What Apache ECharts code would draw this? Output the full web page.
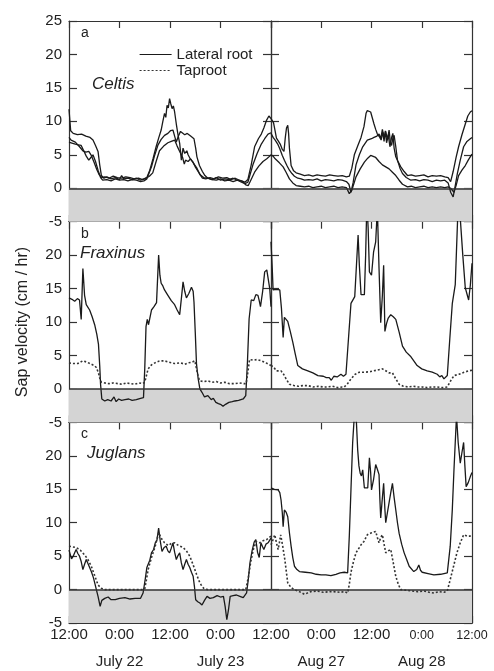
<!DOCTYPE html>
<html>
<head>
<meta charset="utf-8">
<title>Sap velocity</title>
<script src="https://cdn.jsdelivr.net/npm/echarts@6/dist/echarts.min.js"></script>
<style>
  html, body { margin: 0; padding: 0; background: #fff; }
  #chart { width: 494px; height: 671px; }
</style>
</head>
<body>
<div id="chart"></div>
<script>
// hours since the first 12:00 of each 48 h window
var tickHours = [0, 12, 24, 36, 48];
var julyTickLabels = ['12:00', '0:00', '12:00', '0:00', '12:00'];
var augTickLabels = ['', '0:00', '12:00', '0:00', '12:00'];
var julyDates = ['July 22', 'July 23'];
var augDates = ['Aug 27', 'Aug 28'];
var panelLetters = ['a', 'b', 'c'];
var speciesNames = ['Celtis', 'Fraxinus', 'Juglans'];
var yTicks = [-5, 0, 5, 10, 15, 20, 25];

// Celtis: three lateral roots
var celtisJuly1 = [[0,11.8],[0.4,8.6],[1,8.2],[2,8.0],[3,8.1],[4,7.8],[5,7.6],[5.7,7.2],[6.3,6.4],[6.9,5.5],[7.3,3.5],[7.7,1.9],[8.3,1.5],[9,1.7],[10,1.4],[11,1.6],[12,1.3],[12.5,1.9],[13,1.4],[14,1.5],[15,1.3],[16,1.5],[17,1.2],[17.8,1.4],[18.5,1.6],[19.2,2.7],[20,4.5],[20.7,6.2],[21.3,7.5],[21.9,8.7],[22.3,10],[22.7,11.2],[23,10.6],[23.3,12.4],[23.6,12.0],[23.9,13.4],[24.2,12.6],[24.5,11.9],[24.8,12.3],[25.1,11.4],[25.5,9.6],[25.9,8.0],[26.3,6.7],[26.7,4.2],[27.1,6.0],[27.5,5.2],[28,5.6],[28.3,5.0],[28.8,4.4],[29.5,3.9],[30,3.2],[30.6,2.6],[31.2,2.0],[32,1.6],[33,1.5],[34,1.3],[35,1.6],[36,1.2],[37,1.4],[38,1.3],[39,1.5],[40,1.2],[41,1.1],[41.8,0.9],[42.5,1.3],[43.3,3.5],[44.1,6.2],[45,7.4],[45.7,8.1],[46.3,9.0],[46.9,10.1],[47.5,10.8],[48,10.4]];
var celtisJuly2 = [[0,6.9],[0.5,6.8],[1.5,6.6],[2.2,6.5],[2.9,6.4],[3.5,5.6],[4.1,4.8],[4.7,4.2],[5.2,4.6],[5.7,5.0],[6.3,4.0],[6.9,2.7],[7.5,1.6],[8,1.2],[9,1.3],[10,1.1],[11,1.4],[12,1.2],[13,1.3],[14,1.1],[15,1.3],[16,1.2],[17,1.0],[17.8,1.1],[18.5,1.4],[19.6,3.2],[20.3,4.8],[21.1,6.4],[21.9,7.3],[22.7,7.9],[23.5,8.2],[24.1,8.6],[24.7,8.7],[25.1,7.8],[25.5,6.9],[26,7.8],[26.5,8.5],[26.9,8.3],[27.5,8.0],[28.1,8.2],[28.9,7.8],[29.7,7.4],[30.1,6.0],[30.4,4.7],[31,3.4],[31.7,2.5],[32.3,1.9],[33,1.5],[34,1.3],[35,1.2],[36,1.4],[37,1.1],[38,1.2],[39,1.0],[40,1.2],[41,0.9],[41.8,0.7],[42.5,0.9],[43.7,3.5],[44.7,5.2],[45.7,6.6],[46.5,7.4],[47.3,8.1],[48,8.3]];
var celtisJuly3 = [[0,7.6],[0.5,7.2],[1.5,6.9],[2.5,6.2],[3.3,5.6],[4,5.4],[4.7,5.5],[5.3,4.9],[6,3.8],[6.6,2.8],[7.2,2.0],[7.8,1.6],[8.5,1.7],[9.5,1.5],[10.5,1.8],[11.5,1.6],[12.5,1.5],[13.5,1.7],[14.5,1.6],[15.5,1.4],[16.5,1.5],[17.5,1.3],[18.3,1.5],[19.1,1.8],[19.9,2.3],[20.7,4.0],[21.5,5.6],[22.5,6.3],[23.5,6.8],[24.3,7.0],[25.1,7.2],[25.7,6.3],[26.3,5.5],[27,4.6],[27.4,3.6],[27.7,4.2],[28.3,4.0],[28.9,4.4],[29.6,3.7],[30.4,3.0],[31,2.2],[31.7,1.5],[32.5,1.4],[33.5,1.6],[34.5,1.4],[35.5,1.7],[36.5,1.5],[37.5,1.6],[38.5,1.3],[39.5,1.5],[40.5,1.2],[41.3,1.0],[42,0.5],[42.6,0.4],[43.2,1.2],[44.1,2.4],[45.1,3.3],[46.1,4.0],[47,4.4],[47.7,4.8],[48,5.0]];
var celtisAug1 = [[0,10.4],[0.3,10.1],[0.6,9.8],[1,8.5],[1.3,7.5],[1.8,7.0],[2.2,6.6],[2.7,5.8],[3.1,5.5],[3.4,7.5],[3.7,9.0],[4.0,9.4],[4.2,8.2],[4.4,6.0],[4.8,3.4],[5.4,2.6],[6,2.3],[7,2.1],[8,1.9],[9,2.0],[10,1.8],[11,2.0],[12,1.9],[13,1.8],[14,2.0],[15,1.9],[16,1.8],[17,1.9],[18,1.7],[18.7,1.8],[19.3,3.0],[19.9,5.0],[20.7,6.3],[21.5,7.6],[22.2,9.2],[22.7,11.2],[23,11.6],[23.4,11.6],[23.8,11.4],[24.2,10.5],[24.6,9.6],[25,8.8],[25.4,8.1],[25.9,7.7],[26.3,7.2],[26.7,8.4],[27,7.0],[27.3,8.6],[27.6,6.8],[28,8.0],[28.4,6.2],[28.8,7.6],[29.1,8.2],[29.4,6.0],[29.8,4.7],[30.4,3.9],[31,3.2],[31.8,2.5],[32.6,1.9],[33.5,2.0],[34.5,1.8],[35.5,1.9],[36.5,2.0],[37.5,1.7],[38.5,1.9],[39.5,1.8],[40.5,1.9],[41.5,1.7],[42.3,1.6],[42.9,1.0],[43.5,2.5],[44.2,4.6],[44.8,6.2],[45.6,8.0],[46.4,9.6],[47,10.8],[47.6,11.4],[48,11.6]];
var celtisAug2 = [[0,8.2],[0.5,7.6],[1,7.2],[1.6,6.6],[2.1,5.9],[2.7,4.9],[3.2,4.2],[3.8,3.4],[4.4,2.7],[5,2.2],[5.6,1.8],[6.4,1.5],[7.2,1.4],[8,1.2],[9,1.3],[10,1.2],[11,1.4],[12,1.1],[13,1.3],[14,1.2],[15,1.1],[16,1.3],[17,1.2],[18,1.0],[18.6,0.6],[19.1,-0.6],[19.6,0.8],[20.3,3.5],[21.1,5.0],[21.9,6.2],[23,7.2],[24,7.4],[24.6,7.6],[25.3,7.8],[25.8,8.1],[26.2,7.4],[26.6,8.8],[27,7.6],[27.4,8.5],[27.8,7.2],[28.2,8.7],[28.5,6.9],[28.8,6.4],[29.1,7.5],[29.4,7.9],[29.8,6.2],[30.2,4.2],[30.8,3.0],[31.4,2.2],[32.3,1.6],[33.4,1.2],[34.5,1.3],[35.5,1.1],[36.5,1.3],[37.5,1.2],[38.5,1.0],[39.5,1.2],[40.5,1.1],[41.5,1.2],[42.3,0.8],[42.9,-0.6],[43.5,-1.3],[44,0.4],[44.5,2.2],[45.2,4.2],[46,6.2],[46.8,7.0],[47.6,7.4],[48,7.6]];
var celtisAug3 = [[0,5.0],[0.5,4.8],[1,4.4],[2,3.8],[2.9,3.2],[3.6,2.4],[4.4,1.4],[5.2,0.8],[6,0.4],[7,0.3],[8,0.2],[9,0.3],[10,0.1],[11,0.2],[12,0.3],[13,0.1],[14,0.2],[15,0.3],[16,0.1],[17,0.2],[18,0.1],[18.7,-0.8],[19.3,-0.3],[20.3,1.7],[21.3,2.9],[22.3,3.9],[23.1,4.5],[23.8,4.9],[25,4.6],[25.8,4.0],[26.6,3.5],[27.4,3.2],[28.2,2.9],[29,2.4],[29.8,1.9],[30.6,1.2],[31.4,0.6],[32.6,0.2],[33.5,0.3],[34.5,0.1],[35.5,0.2],[36.5,0.3],[37.5,0.1],[38.5,0.2],[39.5,0.1],[40.5,0.2],[41.5,0.1],[42.3,0.2],[42.9,0.0],[43.7,-0.6],[44.2,0.4],[44.8,1.9],[45.6,2.7],[46.4,3.4],[47.1,4.2],[47.8,4.9],[48,5.1]];

// Fraxinus
var fraxinusJulyLateral = [[0,13.6],[0.7,13.4],[1.35,13.1],[2,13.5],[2.5,13.3],[2.9,10.4],[3.3,18.0],[3.7,14.0],[4.1,12.6],[4.5,12.4],[4.9,11.8],[5.5,10.8],[6.1,9.6],[6.6,8.2],[7.0,6.7],[7.3,3.5],[7.5,0.7],[7.8,-1.5],[8.5,-1.8],[9.2,-1.6],[10,-1.8],[10.7,-1.2],[11.2,-1.9],[11.8,-1.5],[12.5,-1.7],[13.3,-1.6],[14.2,-1.5],[15,-1.7],[16,-1.6],[17,-1.4],[17.7,-1.3],[18.0,3.0],[18.3,9.3],[18.6,10.4],[18.9,9.6],[19.6,11.8],[20.2,12.3],[20.8,12.9],[21.3,20.0],[21.6,17.0],[21.9,15.8],[22.3,15.4],[22.7,14.8],[23.5,14.0],[24.3,13.2],[25.1,12.6],[25.7,11.8],[26.3,11.1],[26.7,13.5],[27.1,16.0],[27.5,14.6],[27.9,13.6],[28.5,14.3],[29.1,15.2],[29.5,14.6],[29.7,13.0],[30.0,8.5],[30.3,3.7],[30.7,1.5],[31.1,0],[31.6,-0.5],[32.2,-1.2],[33,-1.0],[33.8,-1.6],[34.3,-1.4],[34.9,-2.0],[35.5,-2.2],[36,-2.3],[36.6,-2.6],[37.2,-2.3],[38,-2.0],[38.8,-1.9],[39.4,-1.8],[40.3,-1.7],[41.4,-1.5],[42,-1.0],[42.4,4.0],[42.8,10.5],[43.3,13.3],[43.9,13.2],[44.4,14.1],[44.9,14.0],[45.2,13.2],[45.5,12.3],[46.0,14.5],[46.5,17.5],[47.0,17.8],[47.3,18.0],[47.7,15.0],[48,12.3]];
var fraxinusJulyTap = [[0,3.9],[1,3.8],[2.1,3.8],[2.7,4.0],[3.3,4.2],[4.3,4.0],[5.3,3.7],[6,3.5],[6.5,3.2],[7,2.4],[7.4,1.4],[7.7,1.0],[8.5,0.9],[9.5,0.8],[10.5,0.9],[11.6,0.8],[12.6,0.7],[13.6,0.9],[14.6,0.8],[15.6,0.7],[16.6,0.9],[17.5,0.8],[18,1.0],[18.4,2.0],[18.8,3.0],[19.6,3.6],[20.4,3.9],[21.5,4.2],[22.7,4.2],[23.8,4.0],[25.1,3.8],[26.5,3.9],[27.5,3.7],[28.3,3.9],[29.2,4.0],[29.9,4.2],[30.3,3.0],[30.7,1.8],[31.1,1.2],[32,1.1],[33,1.2],[34,1.0],[35,1.1],[36,0.9],[37,1.0],[38,0.8],[39.4,0.8],[40.5,0.9],[41.5,0.8],[42.1,0.8],[42.5,2.5],[42.9,4.4],[43.8,4.3],[44.7,4.4],[45.7,4.2],[46.8,3.9],[48,3.5]];
var fraxinusAugLateral = [[0,22.0],[0.3,18],[0.5,14.8],[1.3,14.9],[2.1,14.8],[2.5,12.0],[2.9,7.7],[3.2,10.7],[3.6,10.9],[4.0,10.1],[4.6,8.6],[5.2,7.0],[5.8,5.2],[6.4,3.5],[7.5,3.0],[8.8,2.7],[10,2.4],[11.2,2.0],[12.5,1.9],[13.2,1.7],[13.9,1.7],[14.4,1.3],[15,1.9],[15.8,1.8],[16.7,2.2],[17.3,1.9],[17.9,2.2],[18.5,7.5],[19.1,12.8],[20.0,13.8],[20.8,23.0],[21.1,18.5],[21.5,14.1],[22.3,14.1],[22.6,20],[22.9,28],[23.2,24],[23.5,17.5],[24.0,17.0],[24.5,20.5],[25.0,22.0],[25.4,27],[25.8,18],[26.2,9.9],[26.6,14],[26.9,18.5],[27.2,8.6],[27.6,9.8],[28.0,10.6],[28.6,11.1],[29.2,10.8],[29.8,10.4],[30.6,8.5],[31.4,6.4],[32.3,5.5],[33.3,4.9],[34.1,4.2],[34.9,3.5],[36,3.0],[37.3,2.7],[38.5,2.5],[39.7,2.2],[40.3,1.8],[40.8,2.0],[41.3,1.5],[41.7,1.7],[42.1,2.0],[42.7,7.5],[43.3,12.8],[44.0,15.6],[44.6,26],[45.2,25.5],[45.8,20],[46.4,15.1],[46.8,14.2],[47.2,13.3],[47.6,15.5],[48,18.8]];
var fraxinusAugTap = [[0,3.5],[0.6,3.3],[1.3,2.7],[2.4,2.7],[3,2.2],[3.6,1.5],[4.4,0.7],[5.5,0.5],[6.5,0.4],[7.6,0.5],[8.8,0.5],[10,0.3],[11.2,0.4],[12.4,0.3],[13.5,0.3],[14.7,0.4],[15.9,0.2],[17,0.3],[17.5,0.3],[18.3,0.8],[19.1,1.5],[20.1,2.2],[21.1,2.5],[22.4,2.5],[23.8,2.6],[25.2,2.8],[26.6,3.0],[27.2,2.8],[28.2,2.4],[29,2.4],[29.8,1.5],[30.6,0.7],[31.6,0.4],[32.8,0.3],[34,0.4],[34.9,0.3],[36.1,0.3],[37.3,0.2],[38.5,0.3],[39.7,0.3],[40.9,0.2],[42.1,0.3],[42.9,1.2],[43.7,2.0],[44.9,2.2],[46.1,2.5],[47.2,2.7],[48,2.8]];

// Juglans
var juglansJulyLateral = [[0,5.9],[0.2,5.7],[0.6,4.6],[1,5.0],[1.4,5.6],[1.7,6.0],[2.1,5.4],[2.5,5.0],[2.9,4.2],[3.3,3.0],[3.7,3.8],[4.1,4.5],[4.7,3.6],[5.3,2.7],[5.8,1.8],[6.2,0.8],[6.5,0],[6.9,-1.0],[7.4,-2.5],[7.8,-1.6],[8.5,-1.3],[9.3,-1.1],[10,-1.5],[11,-1.5],[12,-1.3],[13.3,-1.2],[14.5,-1.4],[15.7,-1.3],[17,-1.3],[17.6,-0.5],[18.1,1.5],[18.5,3.3],[18.8,3.5],[19.2,4.4],[19.6,5.5],[20.1,6.0],[20.5,7.0],[20.9,7.4],[21.3,9.2],[21.7,7.2],[22.1,5.7],[22.6,6.3],[23.1,6.5],[23.5,5.8],[23.9,5.5],[24.3,6.2],[24.7,7.0],[25.1,5.6],[25.5,4.5],[25.9,5.1],[26.3,5.5],[26.7,4.0],[27.1,3.0],[27.5,3.8],[27.9,4.5],[28.3,3.8],[28.7,3.3],[29.1,2.6],[29.5,2.0],[29.8,0.5],[30.1,-1.5],[30.6,-1.8],[31.1,-2.0],[31.6,-2.3],[32.2,-1.6],[32.8,-1.0],[33.5,-1.3],[34.3,-1.2],[35.2,-0.9],[36,-1.1],[36.7,-1.0],[37.1,-2.5],[37.5,-4.5],[37.9,-3.0],[38.3,-1.0],[39,-0.9],[39.8,-0.8],[40.6,-1.0],[41.4,-1.2],[42.2,-0.5],[42.6,1.5],[43,4.0],[43.5,5.8],[44,7.1],[44.4,7.5],[44.8,5.6],[45.2,4.8],[45.6,7.0],[46,6.4],[46.3,6.0],[46.8,6.8],[47.3,7.0],[48,7.7]];
var juglansJulyTap = [[0,6.5],[0.8,6.4],[1.7,6.3],[2.7,5.9],[3.7,5.2],[4.5,4.5],[5.3,3.5],[6.1,2.1],[6.9,0.7],[7.7,0.2],[8.5,0],[10,0],[11.6,0],[13,0],[14.5,0],[16,0],[17.3,0],[18,0.1],[18.4,1.5],[18.8,3.0],[19.6,4.8],[20.5,6.5],[21.3,8.5],[22,7.6],[22.7,7.0],[23.6,6.6],[24.3,6.9],[25.1,7.0],[26,6.6],[27.1,6.3],[27.9,5.8],[28.7,5.0],[29.5,3.7],[30.3,2.3],[30.9,1.3],[31.4,0.7],[32,0.2],[33,0],[34.5,0],[36,0],[37.5,0],[39,0],[40.5,0],[42,0],[42.6,1.8],[43.2,4.2],[43.8,6.0],[44.5,7.2],[45.3,7.0],[46.1,7.3],[47,7.5],[48,8.0]];
var juglansAugLateral = [[0,15.2],[0.8,15.0],[1.7,14.9],[2.1,14.5],[2.4,13.4],[2.7,11.5],[2.9,9.4],[3.2,11.9],[3.6,11.6],[4.0,10.9],[4.4,8.5],[4.8,6.5],[5.2,4.8],[5.6,3.5],[6.2,3.0],[6.8,2.7],[8.2,2.6],[9.6,2.5],[10.8,2.3],[12,2.2],[13.1,2.2],[14.3,2.1],[15.5,2.3],[16.5,2.5],[17.5,2.6],[18.3,2.5],[18.7,8],[19.1,15],[19.5,22],[20,27],[20.4,25],[20.7,20.9],[21.0,18.5],[21.3,17.4],[21.6,17.0],[21.9,17.9],[22.3,15.2],[22.7,15.0],[23.1,15.2],[23.5,19.7],[23.8,17.5],[24.0,14.9],[24.5,16.5],[25.0,18.7],[25.4,18.0],[25.8,17.2],[26.0,13.5],[26.2,10.7],[26.5,13.0],[26.9,15.9],[27.2,12.0],[27.4,10.0],[27.8,11.5],[28.2,13.0],[28.6,14.5],[29.0,15.9],[29.4,13.8],[29.8,11.9],[30.2,10.0],[30.6,8.4],[31.2,6.8],[31.8,5.5],[32.4,4.5],[33.0,3.5],[34.1,2.7],[34.8,3.0],[35.3,3.7],[35.7,2.9],[36.1,2.6],[37.5,2.4],[38.9,2.2],[40.5,2.3],[42.1,2.5],[42.8,6.5],[43.3,12],[43.7,18],[44.3,26],[44.7,22],[45.2,18.9],[45.6,20.5],[46.0,22.0],[46.3,18.5],[46.6,15.4],[47.1,16.0],[47.6,16.9],[48,17.5]];
var juglansAugTap = [[0,6.7],[0.5,7.5],[0.9,8.2],[1.3,7.0],[1.7,6.0],[2.0,7.0],[2.3,8.2],[2.8,6.5],[3.3,4.5],[3.7,2.5],[4.0,1.0],[4.8,0.3],[5.6,0],[6.8,-0.3],[8,-0.7],[9.5,-0.3],[11,-0.2],[12.5,-0.4],[14,-0.3],[15,-0.3],[16.5,-0.4],[17.5,-0.3],[18.3,-0.5],[18.7,0.8],[19.1,2.6],[19.7,4.2],[20.3,5.5],[21.5,6.7],[22.2,7.2],[23,8.2],[24,8.5],[25,8.7],[25.4,7.8],[25.8,7.0],[26.2,7.8],[26.6,8.2],[27,6.8],[27.4,5.5],[28,5.8],[28.6,6.0],[29.2,4.0],[29.8,2.0],[30.4,0.8],[31,0],[32.3,-0.1],[33.7,-0.2],[35,-0.3],[36.5,-0.2],[37.8,-0.4],[38.9,-0.5],[40.2,-0.3],[41.3,-0.4],[42.1,-0.2],[42.8,1.5],[43.6,3.5],[44.4,5.5],[45.2,7.0],[46,8.2],[46.8,8.0],[47.6,8.0],[48,7.9]];

// which arrays go in which panel: [row][column]
var panels = [
    [[celtisJuly1, celtisJuly2, celtisJuly3], [celtisAug1, celtisAug2, celtisAug3]],
    [[fraxinusJulyLateral, fraxinusJulyTap], [fraxinusAugLateral, fraxinusAugTap]],
    [[juglansJulyLateral, juglansJulyTap], [juglansAugLateral, juglansAugTap]]
];
var tapIndex = [-1, 1, 1]; // taproot line in each row (none for Celtis)

var FONT = 'Liberation Sans, Arial, sans-serif';
var INK = '#222';
var colLeft = [69, 271];
var colWidth = [202, 201];
var plotTop = 21;
var rowHeight = 200.7;

var grids = [], xAxes = [], yAxes = [], series = [], graphics = [];

for (var r = 0; r < 3; r++) {
    for (var c = 0; c < 2; c++) {
        var gi = r * 2 + c;
        grids.push({ left: colLeft[c], top: plotTop + r * rowHeight, width: colWidth[c], height: rowHeight });

        var isBottom = r === 2;
        (function (c, isBottom) {
            xAxes.push({
                type: 'value', gridIndex: gi, position: 'bottom', min: 0, max: 48, interval: 12,
                axisLine: { onZero: false, lineStyle: { color: '#333', width: 1.2 } },
                axisTick: { inside: true, length: 7, lineStyle: { color: '#333', width: 1.2 } },
                splitLine: { show: false },
                axisLabel: {
                    show: isBottom, margin: 3, showMinLabel: c === 0, showMaxLabel: true,
                    fontFamily: FONT, color: INK,
                    formatter: function (v) {
                        var i = tickHours.indexOf(v);
                        var lab = c === 0 ? julyTickLabels[i] : augTickLabels[i];
                        if (!lab) return '';
                        var style = (c === 1 && i >= 3) ? 's' : 't';
                        var s = '{' + style + '|' + lab + '}';
                        var dates = c === 0 ? julyDates : augDates;
                        if (i === 1) s += '\n{d|' + dates[0] + '}';
                        if (i === 3) s += '\n{d|' + dates[1] + '}';
                        return s;
                    },
                    rich: {
                        t: { fontSize: 15, lineHeight: 18, fontFamily: FONT, color: INK },
                        s: { fontSize: 12.5, lineHeight: 18, fontFamily: FONT, color: INK },
                        d: { fontSize: 15, lineHeight: 36, fontFamily: FONT, color: INK }
                    }
                }
            });
        })(c, isBottom);
        xAxes.push({
            type: 'value', gridIndex: gi, position: 'top', min: 0, max: 48, interval: 12,
            axisLine: { onZero: false, lineStyle: { color: '#333', width: 1.2 } },
            axisTick: { inside: true, length: 7, lineStyle: { color: '#333', width: 1.2 } },
            splitLine: { show: false }, axisLabel: { show: false }
        });

        var leftY = {
            type: 'value', gridIndex: gi, position: 'left', min: yTicks[0], max: yTicks[yTicks.length - 1], interval: 5,
            axisLine: { onZero: false, lineStyle: { color: '#333', width: 1.2 } },
            axisTick: { inside: true, length: 8, lineStyle: { color: '#333', width: 1.2 } },
            splitLine: { show: false },
            axisLabel: { show: c === 0, margin: 7, fontSize: 15, fontFamily: FONT, color: INK, showMaxLabel: r === 0 }
        };
        if (r === 1 && c === 0) {
            leftY.name = 'Sap velocity (cm / hr)';
            leftY.nameLocation = 'middle';
            leftY.nameGap = 38;
            leftY.nameTextStyle = { fontSize: 16, fontFamily: FONT, color: INK };
        }
        yAxes.push(leftY);
        yAxes.push({
            type: 'value', gridIndex: gi, position: 'right', min: yTicks[0], max: yTicks[yTicks.length - 1], interval: 5,
            axisLine: { onZero: false, lineStyle: { color: '#333', width: 1.2 } },
            axisTick: { inside: true, length: 8, lineStyle: { color: '#333', width: 1.2 } },
            splitLine: { show: false }, axisLabel: { show: false }
        });

        // grey band below zero plus the zero line
        series.push({
            type: 'line', xAxisIndex: gi * 2, yAxisIndex: gi * 2, data: [], z: 1, silent: true,
            markArea: {
                silent: true, itemStyle: { color: '#d4d4d4' },
                data: [[{ yAxis: yTicks[0] }, { yAxis: 0 }]]
            },
            markLine: {
                silent: true, symbol: 'none', label: { show: false },
                lineStyle: { color: '#333', type: 'solid', width: 1.5 },
                data: [{ yAxis: 0 }]
            }
        });

        panels[r][c].forEach(function (arr, k) {
            var tap = k === tapIndex[r];
            series.push({
                name: tap ? 'Taproot' : 'Lateral root',
                type: 'line', xAxisIndex: gi * 2, yAxisIndex: gi * 2, data: arr,
                symbol: 'none', z: 3, clip: true,
                itemStyle: { color: tap ? '#333' : '#1a1a1a' },
                lineStyle: tap ? { color: '#333', width: 1.6, type: [2, 2] } : { color: '#1a1a1a', width: 1.3 }
            });
        });
    }

    // panel letter and species name
    graphics.push({ type: 'text', left: 81, top: plotTop + r * rowHeight + 5,
        style: { text: panelLetters[r], font: '14px ' + FONT, fill: INK } });
}
graphics.push({ type: 'text', left: 92, top: 76, style: { text: speciesNames[0], font: 'italic 17px ' + FONT, fill: INK } });
graphics.push({ type: 'text', left: 80, top: 245, style: { text: speciesNames[1], font: 'italic 17px ' + FONT, fill: INK } });
graphics.push({ type: 'text', left: 87, top: 445, style: { text: speciesNames[2], font: 'italic 17px ' + FONT, fill: INK } });

var option = {
    animation: false,
    backgroundColor: '#fff',
    grid: grids,
    xAxis: xAxes,
    yAxis: yAxes,
    legend: {
        data: ['Lateral root', 'Taproot'],
        orient: 'vertical', left: 134, top: 42,
        itemWidth: 32, itemHeight: 12, itemGap: 1,
        itemStyle: { opacity: 0 },
        lineStyle: { width: 1.2 },
        textStyle: { fontSize: 15, fontFamily: FONT, color: INK, lineHeight: 13 }
    },
    graphic: graphics,
    series: series
};

var myChart = echarts.init(document.getElementById('chart'));
myChart.setOption(option);
</script>
</body>
</html>
